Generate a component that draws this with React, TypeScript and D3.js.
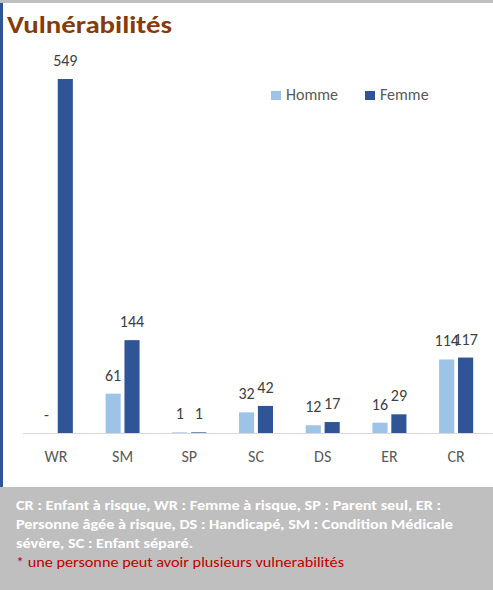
import * as d3 from "d3";
import React from "react";

const categories = ["WR", "SM", "SP", "SC", "DS", "ER", "CR"];
const series = ["Homme", "Femme"];
const homme = [0, 61, 1, 32, 12, 16, 114];
const femme = [549, 144, 1, 42, 17, 29, 117];
const footerLines = [
  "CR : Enfant à risque, WR : Femme à risque, SP : Parent seul, ER :",
  "Personne âgée à risque, DS : Handicapé, SM : Condition Médicale",
  "sévère, SC : Enfant séparé.",
];
const noteLine = "* une personne peut avoir plusieurs vulnerabilités";

const colors: Record<string, string> = { Homme: "#9DC3E6", Femme: "#2F5597" };
const font = "Calibri, Carlito, 'Open Sans', 'Noto Sans', sans-serif";

export default function App() {
  const W = 493,
    H = 590;
  const baseY = 433;

  const x = d3
    .scaleBand<string>()
    .domain(categories)
    .range([22.5, 489.5])
    .paddingInner(0.49)
    .paddingOuter(0.245);
  const xs = d3
    .scaleBand<string>()
    .domain(series)
    .range([0, x.bandwidth()])
    .paddingInner(0.2);
  const y = d3.scaleLinear().domain([0, 549]).range([baseY, 79]);

  const values: Record<string, number[]> = { Homme: homme, Femme: femme };

  return (
    <svg
      width={W}
      height={H}
      style={{ position: "absolute", left: 0, top: 0, background: "#fff" }}
      fontFamily={font}
    >
      <rect x={0} y={0} width={W} height={3} fill="#BFBFBF" />
      <rect x={0} y={3} width={3} height={484} fill="#2F5597" />
      <text
        x={7}
        y={33}
        fontSize={25}
        fontWeight="bold"
        fill="#843C0C"
        textLength={165}
        lengthAdjust="spacingAndGlyphs"
      >
        Vulnérabilités
      </text>

      {/* legend */}
      <g fontSize={16} fill="#595959">
        <rect x={271} y={91} width={10} height={9} fill={colors.Homme} />
        <text x={286} y={100}>Homme</text>
        <rect x={365} y={91} width={10} height={9} fill={colors.Femme} />
        <text x={380} y={100}>Femme</text>
      </g>

      {/* bars */}
      {series.map((s) =>
        categories.map((c, i) => {
          const v = values[s][i];
          const bx = (x(c) as number) + (xs(s) as number);
          return (
            <rect
              key={s + c}
              x={bx}
              y={y(v)}
              width={xs.bandwidth()}
              height={baseY - y(v)}
              fill={colors[s]}
            />
          );
        })
      )}

      {/* axis */}
      <line x1={23} x2={W} y1={baseY + 0.5} y2={baseY + 0.5} stroke="#D9D9D9" strokeWidth={1} />

      {/* data labels */}
      <g fontSize={16} fill="#404040" textAnchor="middle">
        {series.map((s) =>
          categories.map((c, i) => {
            const v = values[s][i];
            const cx = (x(c) as number) + (xs(s) as number) + xs.bandwidth() / 2;
            return (
              <text key={"l" + s + c} x={cx} y={y(v) - 13}>
                {v === 0 ? "-" : v}
              </text>
            );
          })
        )}
      </g>

      {/* category labels */}
      <g fontSize={16} fill="#595959" textAnchor="middle">
        {categories.map((c) => (
          <text key={"c" + c} x={(x(c) as number) + x.bandwidth() / 2} y={462}>
            {c}
          </text>
        ))}
      </g>

      {/* footer */}
      <rect x={0} y={487} width={W} height={H - 487} fill="#BFBFBF" />
      <g fontSize={14} fontWeight="bold" fill="#FFFFFF">
        {footerLines.map((t, i) => (
          <text
            key={"f" + i}
            x={16}
            y={510 + i * 19}
            textLength={[425, 437, 177][i]}
            lengthAdjust="spacingAndGlyphs"
          >
            {t}
          </text>
        ))}
      </g>
      <text
        x={16}
        y={567}
        fontSize={14}
        fill="#C00000"
        textLength={328}
        lengthAdjust="spacingAndGlyphs"
      >
        {noteLine}
      </text>
    </svg>
  );
}
